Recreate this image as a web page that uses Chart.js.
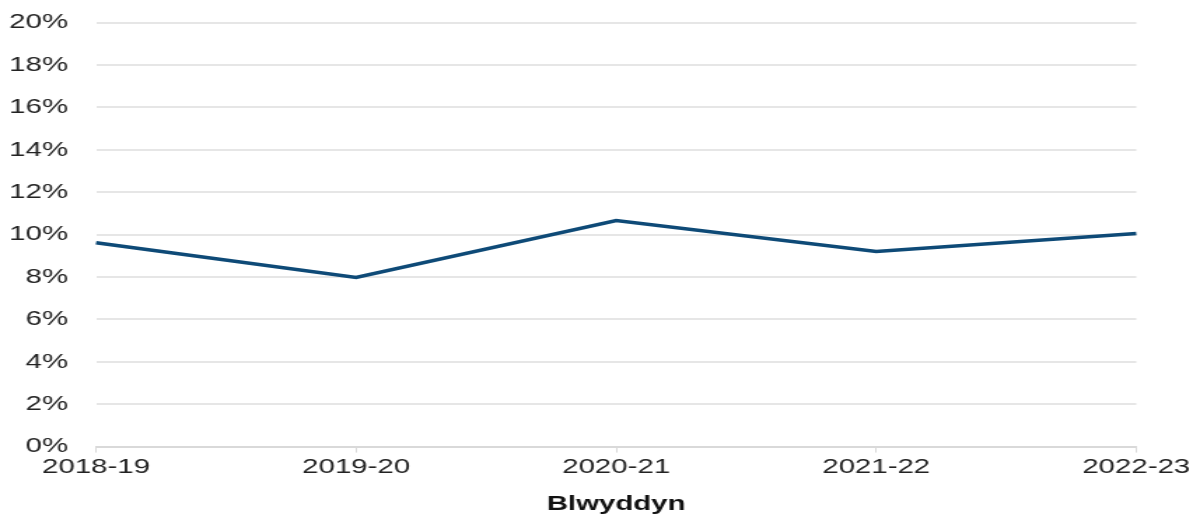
<!DOCTYPE html>
<html>
<head>
<meta charset="utf-8">
<script src="https://cdn.jsdelivr.net/npm/chart.js@4"></script>
<style>
  html, body { margin: 0; padding: 0; background: #fff; }
  /* the reference text is drawn wide, so the canvas is stretched sideways */
  #siart { display: block; width: 1193px !important; height: 517px !important; }
</style>
</head>
<body>
<canvas id="siart" width="852" height="517" style="width:1193px;height:517px"></canvas>
<script>
const blynyddoedd = ["2018-19", "2019-20", "2020-21", "2021-22", "2022-23"];
const canran = [9.62, 7.98, 10.66, 9.2, 10.05];
const tocynnauY = [0, 2, 4, 6, 8, 10, 12, 14, 16, 18, 20];

const ffont = "'Liberation Sans', Arial, sans-serif";

const siart = new Chart("siart", {
    type: "line",
    data: {
        labels: blynyddoedd,
        datasets: [{
            label: "Canran",
            data: canran,
            borderColor: "#0e4a77",
            borderWidth: 3.5,
            pointRadius: 0,
            tension: 0,
            fill: false
        }]
    },
    options: {
        responsive: false,
        animation: false,
        layout: {
            padding: { left: 6, top: 0, right: 0, bottom: 0 }
        },
        plugins: {
            legend: { display: false },
            tooltip: { enabled: false }
        },
        scales: {
            x: {
                offset: false,
                grid: {
                    drawOnChartArea: false,
                    drawTicks: true,
                    tickLength: 6,
                    color: "#d9d9d9"
                },
                border: { color: "#d9d9d9", width: 2 },
                ticks: {
                    color: "#222",
                    padding: 2,
                    maxRotation: 0,
                    font: { family: ffont, size: 21 }
                },
                title: {
                    display: true,
                    text: "Blwyddyn",
                    color: "#111",
                    padding: { top: 10, bottom: 0 },
                    font: { family: ffont, size: 21, weight: "bold" }
                }
            },
            y: {
                min: 0,
                max: 20,
                afterBuildTicks: (axis) => {
                    axis.ticks = tocynnauY.map(v => ({ value: v }));
                },
                afterFit: (axis) => {
                    axis.width = 62.6;
                },
                grid: {
                    color: "#e6e6e6",
                    lineWidth: 2,
                    drawTicks: true,
                    tickLength: 10,
                    tickColor: "rgba(0,0,0,0)"
                },
                border: { display: false },
                ticks: {
                    color: "#222",
                    padding: 10,
                    font: { family: ffont, size: 21 },
                    callback: (v) => v + "%"
                }
            }
        }
    }
});
</script>
</body>
</html>
